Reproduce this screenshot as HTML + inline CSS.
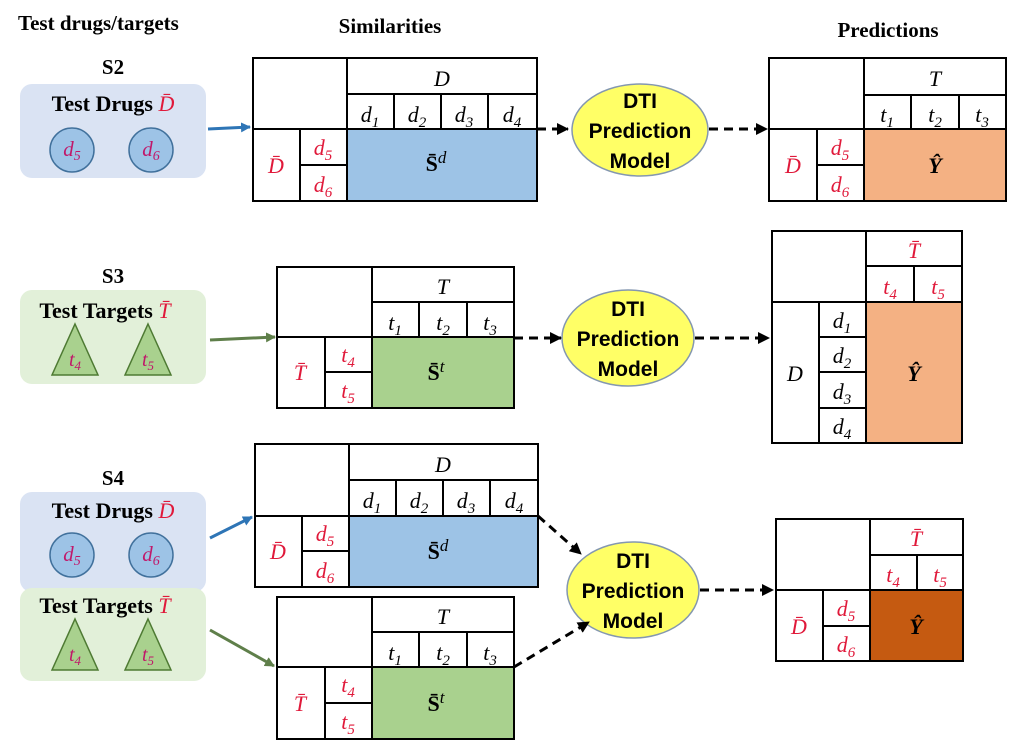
<!DOCTYPE html>
<html><head><meta charset="utf-8"><style>body{margin:0;background:#fff}svg{display:block}</style></head><body>
<svg width="1009" height="751" viewBox="0 0 1009 751" xmlns="http://www.w3.org/2000/svg" font-family="Liberation Serif, serif">
<defs>
<marker id="ah" markerWidth="12" markerHeight="12" refX="11" refY="6" orient="auto" markerUnits="userSpaceOnUse"><path d="M0,0 L12,6 L0,12 z" fill="#000"/></marker>
<marker id="ab" markerWidth="10" markerHeight="10" refX="9" refY="5" orient="auto" markerUnits="userSpaceOnUse"><path d="M0,0 L10,5 L0,10 z" fill="#2e75b6"/></marker>
<marker id="ag" markerWidth="10" markerHeight="10" refX="9" refY="5" orient="auto" markerUnits="userSpaceOnUse"><path d="M0,0 L10,5 L0,10 z" fill="#5f7f4a"/></marker>
</defs>
<g font-weight="bold" font-size="21" fill="#000">
<text x="18" y="30">Test drugs/targets</text>
<text x="390" y="33" text-anchor="middle">Similarities</text>
<text x="888" y="37" text-anchor="middle">Predictions</text>
<text x="113" y="74" text-anchor="middle">S2</text>
<text x="113" y="283" text-anchor="middle">S3</text>
<text x="113" y="485" text-anchor="middle">S4</text>
</g>
<rect x="20" y="84" width="186" height="94" rx="12" fill="#dae3f3"/>
<text x="113" y="111" text-anchor="middle" font-weight="bold" font-size="22">Test Drugs <tspan fill="#e0193a" font-style="italic" font-weight="normal">D̄</tspan></text>
<circle cx="72" cy="150" r="22" fill="#9dc3e6" stroke="#41719c" stroke-width="1.5"/>
<circle cx="151" cy="150" r="22" fill="#9dc3e6" stroke="#41719c" stroke-width="1.5"/>
<g font-style="italic" font-size="21" fill="#c0186a" text-anchor="middle"><text x="72" y="156">d<tspan font-size="14" dy="4">5</tspan></text><text x="151" y="156">d<tspan font-size="14" dy="4">6</tspan></text></g>
<rect x="20" y="290" width="186" height="94" rx="12" fill="#e2f0d9"/>
<text x="105" y="318" text-anchor="middle" font-weight="bold" font-size="22">Test Targets <tspan fill="#e0193a" font-style="italic" font-weight="normal">T̄</tspan></text>
<path d="M75,324 L98,375 L52,375 Z" fill="#a9d18e" stroke="#4e7a33" stroke-width="1.5"/>
<path d="M148,324 L171,375 L125,375 Z" fill="#a9d18e" stroke="#4e7a33" stroke-width="1.5"/>
<g font-style="italic" font-size="20" fill="#c0186a" text-anchor="middle"><text x="75" y="366">t<tspan font-size="13" dy="4">4</tspan></text><text x="148" y="366">t<tspan font-size="13" dy="4">5</tspan></text></g>
<rect x="20" y="492" width="186" height="100" rx="12" fill="#dae3f3"/>
<rect x="20" y="588" width="186" height="93" rx="12" fill="#e2f0d9"/>
<text x="113" y="518" text-anchor="middle" font-weight="bold" font-size="22">Test Drugs <tspan fill="#e0193a" font-style="italic" font-weight="normal">D̄</tspan></text>
<circle cx="72" cy="555" r="22" fill="#9dc3e6" stroke="#41719c" stroke-width="1.5"/>
<circle cx="151" cy="555" r="22" fill="#9dc3e6" stroke="#41719c" stroke-width="1.5"/>
<g font-style="italic" font-size="21" fill="#c0186a" text-anchor="middle"><text x="72" y="561">d<tspan font-size="14" dy="4">5</tspan></text><text x="151" y="561">d<tspan font-size="14" dy="4">6</tspan></text></g>
<text x="105" y="613" text-anchor="middle" font-weight="bold" font-size="22">Test Targets <tspan fill="#e0193a" font-style="italic" font-weight="normal">T̄</tspan></text>
<path d="M75,619 L98,670 L52,670 Z" fill="#a9d18e" stroke="#4e7a33" stroke-width="1.5"/>
<path d="M148,619 L171,670 L125,670 Z" fill="#a9d18e" stroke="#4e7a33" stroke-width="1.5"/>
<g font-style="italic" font-size="20" fill="#c0186a" text-anchor="middle"><text x="75" y="661">t<tspan font-size="13" dy="4">4</tspan></text><text x="148" y="661">t<tspan font-size="13" dy="4">5</tspan></text></g>

<rect x="347" y="129" width="190" height="72" fill="#9dc3e6"/>
<rect x="864" y="129" width="142" height="72" fill="#f4b183"/>
<rect x="372" y="337" width="142" height="71" fill="#a9d18e"/>
<rect x="866" y="302" width="96" height="141" fill="#f4b183"/>
<rect x="349" y="516" width="189" height="71" fill="#9dc3e6"/>
<rect x="372" y="667" width="142" height="72" fill="#a9d18e"/>
<rect x="870" y="590" width="93" height="71" fill="#c55a11"/>

<g fill="none" stroke="#000" stroke-width="2">
<rect x="253" y="58" width="284" height="143"/>
<path d="M347,58V201 M253,129H537 M347,94H537 M394,94V129 M441,94V129 M488,94V129 M300,129V201 M300,165H347"/>
<rect x="769" y="58" width="237" height="143"/>
<path d="M864,58V201 M769,129H1006 M864,95H1006 M911,95V129 M959,95V129 M817,129V201 M817,165H864"/>
<rect x="277" y="267" width="237" height="141"/>
<path d="M372,267V408 M277,337H514 M372,302H514 M419,302V337 M467,302V337 M325,337V408 M325,372H372"/>
<rect x="772" y="231" width="190" height="212"/>
<path d="M866,231V443 M772,302H962 M866,266H962 M914,266V302 M819,302V443 M819,337H866 M819,372H866 M819,408H866"/>
<rect x="255" y="444" width="283" height="143"/>
<path d="M349,444V587 M255,516H538 M349,480H538 M396,480V516 M443,480V516 M490,480V516 M302,516V587 M302,551H349"/>
<rect x="277" y="597" width="237" height="142"/>
<path d="M372,597V739 M277,667H514 M372,632H514 M419,632V667 M467,632V667 M325,667V739 M325,703H372"/>
<rect x="776" y="519" width="187" height="142"/>
<path d="M870,519V661 M776,590H963 M870,555H963 M917,555V590 M823,590V661 M823,626H870"/>
</g>

<g font-style="italic" font-size="22" text-anchor="middle" fill="#000">
<text x="442" y="86">D</text>
<text x="370" y="122">d<tspan font-size="15" dy="5">1</tspan></text><text x="417" y="122">d<tspan font-size="15" dy="5">2</tspan></text><text x="464" y="122">d<tspan font-size="15" dy="5">3</tspan></text><text x="512" y="122">d<tspan font-size="15" dy="5">4</tspan></text>
<text x="276" y="173" fill="#e0193a">D̄</text>
<text x="323" y="155" fill="#e0193a">d<tspan font-size="15" dy="5">5</tspan></text><text x="323" y="192" fill="#e0193a">d<tspan font-size="15" dy="5">6</tspan></text>
<text x="436" y="171" font-weight="bold" font-style="normal">S̄<tspan font-style="italic" font-weight="normal" font-size="17" dy="-8">d</tspan></text>
<text x="935" y="86">T</text>
<text x="887" y="122">t<tspan font-size="15" dy="5">1</tspan></text><text x="935" y="122">t<tspan font-size="15" dy="5">2</tspan></text><text x="982" y="122">t<tspan font-size="15" dy="5">3</tspan></text>
<text x="793" y="173" fill="#e0193a">D̄</text>
<text x="840" y="155" fill="#e0193a">d<tspan font-size="15" dy="5">5</tspan></text><text x="840" y="192" fill="#e0193a">d<tspan font-size="15" dy="5">6</tspan></text>
<text x="935" y="173" font-weight="bold">Ŷ</text>
<text x="443" y="294">T</text>
<text x="395" y="330">t<tspan font-size="15" dy="5">1</tspan></text><text x="443" y="330">t<tspan font-size="15" dy="5">2</tspan></text><text x="490" y="330">t<tspan font-size="15" dy="5">3</tspan></text>
<text x="300" y="380" fill="#e0193a">T̄</text>
<text x="348" y="362" fill="#e0193a">t<tspan font-size="15" dy="5">4</tspan></text><text x="348" y="398" fill="#e0193a">t<tspan font-size="15" dy="5">5</tspan></text>
<text x="436" y="380" font-weight="bold" font-style="normal">S̄<tspan font-style="italic" font-weight="normal" font-size="17" dy="-8">t</tspan></text>
<text x="914" y="258" fill="#e0193a">T̄</text>
<text x="890" y="294" fill="#e0193a">t<tspan font-size="15" dy="5">4</tspan></text><text x="938" y="294" fill="#e0193a">t<tspan font-size="15" dy="5">5</tspan></text>
<text x="795" y="381">D</text>
<text x="842" y="328">d<tspan font-size="15" dy="5">1</tspan></text><text x="842" y="363">d<tspan font-size="15" dy="5">2</tspan></text><text x="842" y="399">d<tspan font-size="15" dy="5">3</tspan></text><text x="842" y="434">d<tspan font-size="15" dy="5">4</tspan></text>
<text x="914" y="381" font-weight="bold">Ŷ</text>
<text x="443" y="472">D</text>
<text x="372" y="508">d<tspan font-size="15" dy="5">1</tspan></text><text x="419" y="508">d<tspan font-size="15" dy="5">2</tspan></text><text x="466" y="508">d<tspan font-size="15" dy="5">3</tspan></text><text x="514" y="508">d<tspan font-size="15" dy="5">4</tspan></text>
<text x="278" y="559" fill="#e0193a">D̄</text>
<text x="325" y="541" fill="#e0193a">d<tspan font-size="15" dy="5">5</tspan></text><text x="325" y="578" fill="#e0193a">d<tspan font-size="15" dy="5">6</tspan></text>
<text x="438" y="559" font-weight="bold" font-style="normal">S̄<tspan font-style="italic" font-weight="normal" font-size="17" dy="-8">d</tspan></text>
<text x="443" y="624">T</text>
<text x="395" y="660">t<tspan font-size="15" dy="5">1</tspan></text><text x="443" y="660">t<tspan font-size="15" dy="5">2</tspan></text><text x="490" y="660">t<tspan font-size="15" dy="5">3</tspan></text>
<text x="300" y="711" fill="#e0193a">T̄</text>
<text x="348" y="692" fill="#e0193a">t<tspan font-size="15" dy="5">4</tspan></text><text x="348" y="729" fill="#e0193a">t<tspan font-size="15" dy="5">5</tspan></text>
<text x="436" y="711" font-weight="bold" font-style="normal">S̄<tspan font-style="italic" font-weight="normal" font-size="17" dy="-8">t</tspan></text>
<text x="916" y="546" fill="#e0193a">T̄</text>
<text x="893" y="582" fill="#e0193a">t<tspan font-size="15" dy="5">4</tspan></text><text x="940" y="582" fill="#e0193a">t<tspan font-size="15" dy="5">5</tspan></text>
<text x="799" y="634" fill="#e0193a">D̄</text>
<text x="846" y="616" fill="#e0193a">d<tspan font-size="15" dy="5">5</tspan></text><text x="846" y="652" fill="#e0193a">d<tspan font-size="15" dy="5">6</tspan></text>
<text x="916" y="634" font-weight="bold">Ŷ</text>
</g>

<g fill="#ffff66" stroke="#8497b0" stroke-width="1.5">
<ellipse cx="640" cy="130" rx="68" ry="46"/>
<ellipse cx="628" cy="338" rx="66" ry="48"/>
<ellipse cx="633" cy="590" rx="66" ry="48"/>
</g>
<g font-family="Liberation Sans, sans-serif" font-weight="bold" font-size="21" text-anchor="middle">
<text x="640" y="108">DTI</text><text x="640" y="138">Prediction</text><text x="640" y="168">Model</text>
<text x="628" y="316">DTI</text><text x="628" y="346">Prediction</text><text x="628" y="376">Model</text>
<text x="633" y="568">DTI</text><text x="633" y="598">Prediction</text><text x="633" y="628">Model</text>
</g>

<g stroke="#000" stroke-width="3" stroke-dasharray="9,6" fill="none">
<path d="M537,129H568" marker-end="url(#ah)"/>
<path d="M709,129H767" marker-end="url(#ah)"/>
<path d="M514,338H561" marker-end="url(#ah)"/>
<path d="M695,338H769" marker-end="url(#ah)"/>
<path d="M538,516L581,554" marker-end="url(#ah)"/>
<path d="M514,667L589,622" marker-end="url(#ah)"/>
<path d="M700,590H773" marker-end="url(#ah)"/>
</g>
<path d="M208,129L250,127" stroke="#2e75b6" stroke-width="3" marker-end="url(#ab)"/>
<path d="M210,340L275,337" stroke="#5f7f4a" stroke-width="3" marker-end="url(#ag)"/>
<path d="M210,538L252,517" stroke="#2e75b6" stroke-width="3" marker-end="url(#ab)"/>
<path d="M210,630L274,666" stroke="#5f7f4a" stroke-width="3" marker-end="url(#ag)"/>
</svg>
</body></html>
